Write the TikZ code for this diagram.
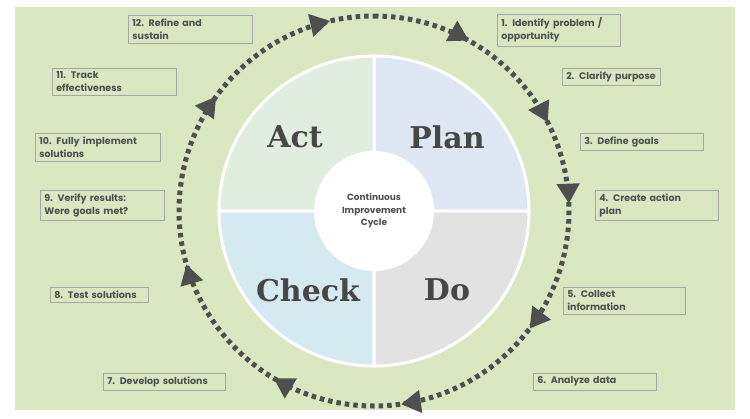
\documentclass[tikz,border=0pt]{standalone}
\usepackage{fontspec}
\setmainfont{Poppins}
\newfontfamily\phasefont{DejaVu Serif}
\usetikzlibrary{arrows.meta, decorations.markings}
\definecolor{bggreen}{HTML}{D9E8C0}
\definecolor{txtgray}{HTML}{4F4F4F}
\definecolor{plancol}{HTML}{DEE8F4}
\definecolor{docol}{HTML}{E2E2E2}
\definecolor{checkcol}{HTML}{D5EAF0}
\definecolor{actcol}{HTML}{DFEEDF}
\tikzset{
  stepnote/.style={draw=gray!70, line width=0.6pt, anchor=north west, align=left,
    inner xsep=4pt, inner ysep=3.5pt, font=\fontsize{9.5}{13}\selectfont\bfseries, text=txtgray},
  phase/.style={font=\phasefont\fontsize{30}{32}\selectfont\bfseries, text=txtgray!90!black},
  quad/.style={draw=white, line width=3pt},
  /pgf/decoration/tip at/.style={mark=at position #1 with {\arrow[solid]{Triangle[length=20pt,width=22pt]}}},
}
\begin{document}
\begin{tikzpicture}[x=1pt,y=1pt]
    \useasboundingbox (0,0) rectangle (750,-418);
    \fill[bggreen] (15,-7) rectangle (735,-410);

    % Quadrants
    \coordinate (c) at (374,-211);
    \filldraw[quad, fill=plancol] (c) -- ++(0:155) arc[start angle=0, end angle=90, radius=155] -- cycle;
    \filldraw[quad, fill=actcol] (c) -- ++(90:155) arc[start angle=90, end angle=180, radius=155] -- cycle;
    \filldraw[quad, fill=checkcol] (c) -- ++(180:155) arc[start angle=180, end angle=270, radius=155] -- cycle;
    \filldraw[quad, fill=docol] (c) -- ++(270:155) arc[start angle=270, end angle=360, radius=155] -- cycle;
    \node[circle, fill=white, minimum size=120pt, align=center, text=txtgray,
      font=\fontsize{9}{12.5}\selectfont\bfseries] (hub) at (c) {Continuous\\Improvement\\Cycle};

    \node[phase] (plan) at (447,-137) {Plan};
    \node[phase] (act) at (295,-137) {Act};
    \node[phase] (check) at (308,-290) {Check};
    \node[phase] (do) at (447,-290) {Do};

    % Dotted ring, drawn clockwise from the top
    \draw[txtgray, line width=5pt, dash pattern=on 4.5pt off 4pt,
      decoration={markings, tip at=0.081, tip at=0.175, tip at=0.244, tip at=0.353,
        tip at=0.478, tip at=0.586, tip at=0.706, tip at=0.85, tip at=0.964},
      postaction={decorate}]
      (c) ++(90:195) arc[start angle=90, end angle=-270, radius=195];

    % Steps
    \node[stepnote, text width=115pt] (s1) at (497,-14) {1. Identify problem /\\opportunity};
    \node[stepnote, text width=90pt] (s2) at (562,-68) {2. Clarify purpose};
    \node[stepnote, text width=115pt] (s3) at (580,-133) {3. Define goals};
    \node[stepnote, text width=115pt] (s4) at (595,-190) {4. Create action\\plan};
    \node[stepnote, text width=114pt] (s5) at (563,-287) {5. Collect\\information};
    \node[stepnote, text width=115pt] (s6) at (533,-373) {6. Analyze data};
    \node[stepnote, text width=114pt] (s7) at (103,-373) {7. Develop solutions};
    \node[stepnote, text width=90pt] (s8) at (50,-287) {8. Test solutions};
    \node[stepnote, text width=116pt] (s9) at (40,-190) {9. Verify results:\\Were goals met?};
    \node[stepnote, text width=117pt] (s10) at (35,-133) {10. Fully implement\\solutions};
    \node[stepnote, text width=116pt] (s11) at (52,-68) {11. Track\\effectiveness};
    \node[stepnote, text width=116pt] (s12) at (128,-15) {12. Refine and\\sustain};
\end{tikzpicture}
\end{document}
